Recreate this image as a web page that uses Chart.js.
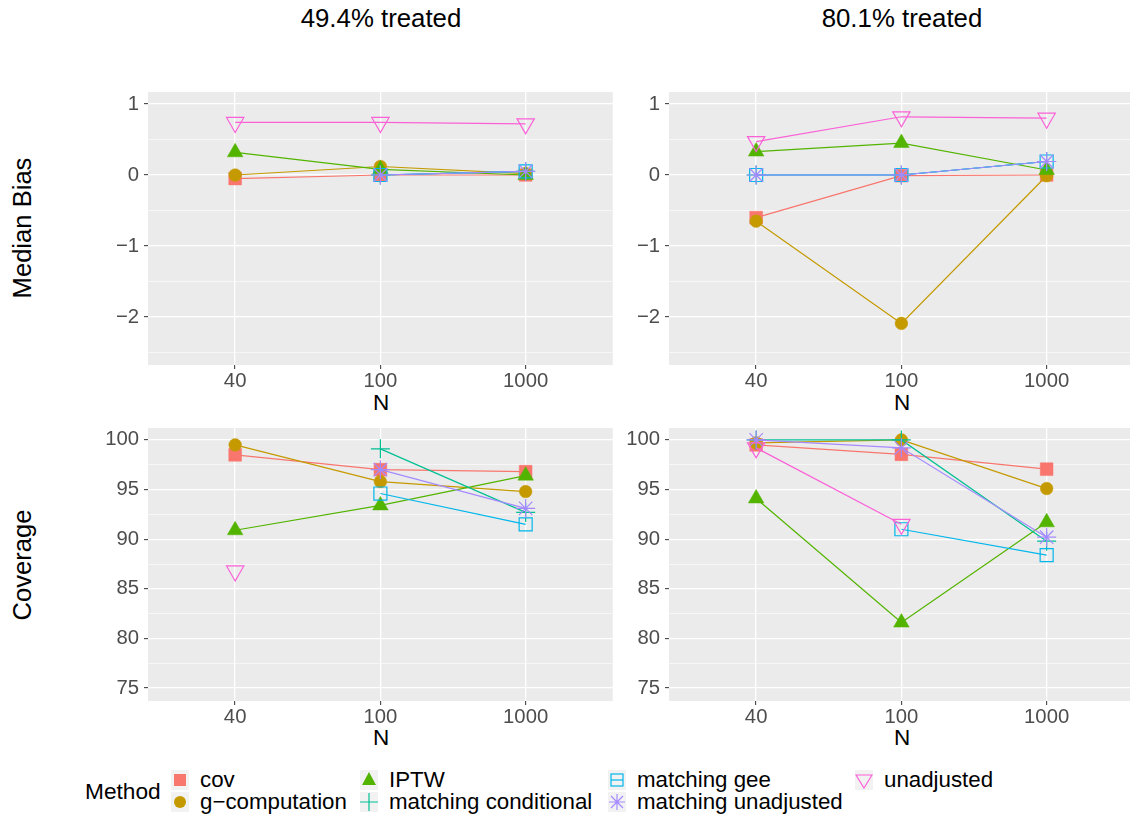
<!DOCTYPE html>
<html>
<head>
<meta charset="utf-8">
<script src="https://cdn.jsdelivr.net/npm/chart.js@4.4.0/dist/chart.umd.min.js"></script>
<style>
  body { margin:0; width:1130px; height:817px; overflow:hidden; position:relative; background:#fff;
         font-family:"Liberation Sans", Arial, sans-serif; }
  canvas.panel { position:absolute; }
  .lab { position:absolute; transform:translate(-50%,-50%); white-space:nowrap; color:#000; }
  .strip { font-size:25.8px; }
  .ytitle { font-size:25.6px; transform:translate(-50%,-50%) rotate(-90deg); }
  .xtitle { font-size:22.5px; }
  .legtext { position:absolute; font-size:22.3px; transform:translateY(-50%); white-space:nowrap; }
  .key { position:absolute; width:18px; height:20px; background:#F2F2F2; }
</style>
</head>
<body>
<div class="lab strip" style="left:381px;top:18px">49.4% treated</div>
<div class="lab strip" style="left:902px;top:18px">80.1% treated</div>
<div class="lab ytitle" style="left:22px;top:228px">Median Bias</div>
<div class="lab ytitle" style="left:22px;top:565px">Coverage</div>
<div class="lab xtitle" style="left:381px;top:403px">N</div>
<div class="lab xtitle" style="left:902px;top:403px">N</div>
<div class="lab xtitle" style="left:381px;top:738px">N</div>
<div class="lab xtitle" style="left:902px;top:738px">N</div>
<div class="legtext" style="left:85px;top:791px;font-size:22.7px">Method</div>

<canvas class="panel" id="biasLeft"></canvas>
<canvas class="panel" id="biasRight"></canvas>
<canvas class="panel" id="covLeft"></canvas>
<canvas class="panel" id="covRight"></canvas>

<script>
// data
var nLabels = ['40', '100', '1000'];
var methods = ['cov', 'g\u2212computation', 'IPTW', 'matching conditional', 'matching gee', 'matching unadjusted', 'unadjusted'];

// median bias, 49.4% treated (one array per method, N = 40, 100, 1000)
var bias49_cov      = [-0.05, 0, 0];
var bias49_gcomp    = [0, 0.12, 0.02];
var bias49_iptw     = [0.32, 0.08, 0];
var bias49_mcond    = [null, 0, 0.05];
var bias49_mgee     = [null, 0, 0.05];
var bias49_munadj   = [null, 0, 0.05];
var bias49_unadj    = [0.74, 0.74, 0.72];

// median bias, 80.1% treated
var bias80_cov      = [-0.60, -0.01, 0];
var bias80_gcomp    = [-0.65, -2.09, -0.01];
var bias80_iptw     = [0.33, 0.45, 0.07];
var bias80_mcond    = [0, 0, 0.19];
var bias80_mgee     = [0, 0, 0.19];
var bias80_munadj   = [0, 0, 0.19];
var bias80_unadj    = [0.47, 0.82, 0.80];

// coverage, 49.4% treated
var cov49_cov       = [98.5, 97.0, 96.8];
var cov49_gcomp     = [99.5, 95.8, 94.8];
var cov49_iptw      = [90.9, 93.4, 96.4];
var cov49_mcond     = [null, 99.1, 92.7];
var cov49_mgee      = [null, 94.6, 91.5];
var cov49_munadj    = [null, 97.0, 93.1];
var cov49_unadj     = [86.8, null, null];

// coverage, 80.1% treated
var cov80_cov       = [99.5, 98.55, 97.05];
var cov80_gcomp     = [99.7, 100, 95.1];
var cov80_iptw      = [94.1, 81.6, 91.7];
var cov80_mcond     = [100, 100, 89.8];
var cov80_mgee      = [null, 91.0, 88.4];
var cov80_munadj    = [100, 99.2, 90.2];
var cov80_unadj     = [99.2, 91.5, null];

var biasTicks = [-2.5, -2, -1.5, -1, -0.5, 0, 0.5, 1];
var covTicks = [75, 77.5, 80, 82.5, 85, 87.5, 90, 92.5, 95, 97.5, 100];

// styles
var colors = ['#F8766D', '#C49A00', '#53B400', '#00C094', '#00B6EB', '#A58AFF', '#FB61D7'];
var shapes = ['rect', 'circle', 'triangle', 'cross', 'rect', 'star', 'triangle'];
var radii = [9, 6.3, 9, 9.5, 9.2, 9.5, 10];
var rotations = [0, 0, 0, 0, 0, 0, 180];
var filled = [true, true, true, false, false, false, false];

var bgPlugin = {
  id: 'panelBg',
  beforeDraw: function(chart) {
    var a = chart.chartArea, ctx = chart.ctx;
    ctx.save();
    ctx.fillStyle = '#EBEBEB';
    ctx.fillRect(a.left, a.top, a.right - a.left, a.bottom - a.top);
    ctx.restore();
  }
};

function fmt(v) {
  return v < 0 ? '\u2212' + Math.abs(v) : String(v);
}

var tickFont = { family: '"Liberation Sans", Arial, sans-serif', size: 20.3 };

function makePanel(id, left, top, series, yMin, yMax, yTicks) {
  var w = 466, h = 273, yW = 60, xH = 45, padTop = 20, padRight = 10;
  var canvas = document.getElementById(id);
  canvas.width = w + yW + padRight;
  canvas.height = h + padTop + xH;
  canvas.style.left = (left - yW) + 'px';
  canvas.style.top = (top - padTop) + 'px';

  var datasets = methods.map(function(m, i) {
    return {
      label: m,
      data: series[i].map(function(v, j) { return { x: j + 1, y: v }; }),
      borderColor: colors[i],
      backgroundColor: colors[i],
      pointBackgroundColor: filled[i] ? colors[i] : 'rgba(0,0,0,0)',
      pointBorderColor: colors[i],
      pointStyle: shapes[i],
      pointRadius: radii[i],
      pointRotation: rotations[i],
      pointBorderWidth: filled[i] ? 0.5 : 1.2,
      borderWidth: 1.2,
      fill: false,
      spanGaps: false,
      tension: 0,
      order: methods.length - 1 - i
    };
  });

  new Chart(canvas, {
    type: 'line',
    data: { datasets: datasets },
    options: {
      responsive: false,
      animation: false,
      devicePixelRatio: 1,
      layout: { padding: { top: padTop, right: padRight, left: 0, bottom: 0 } },
      plugins: { legend: { display: false }, tooltip: { enabled: false } },
      scales: {
        x: {
          type: 'linear', min: 0.4, max: 3.6,
          afterBuildTicks: function(s) { s.ticks = nLabels.map(function(_, j) { return { value: j + 1 }; }); },
          afterFit: function(s) { s.height = xH; },
          ticks: {
            callback: function(v, i) { return nLabels[i]; },
            color: '#4D4D4D', font: tickFont, padding: 0, maxRotation: 0, autoSkip: false
          },
          grid: { color: '#FFFFFF', lineWidth: 1.3, tickColor: '#333333', tickLength: 4, tickWidth: 1 },
          border: { display: false }
        },
        y: {
          type: 'linear', min: yMin, max: yMax,
          afterBuildTicks: function(s) { s.ticks = yTicks.map(function(v) { return { value: v }; }); },
          afterFit: function(s) { s.width = yW; },
          ticks: {
            callback: function(v) { return Number.isInteger(v) ? fmt(v) : ''; },
            color: '#4D4D4D', font: tickFont, padding: 5, autoSkip: false
          },
          grid: {
            color: '#FFFFFF',
            lineWidth: function(c) { return Number.isInteger(c.tick.value) ? 1.3 : 0.6; },
            tickColor: function(c) { return Number.isInteger(c.tick.value) ? '#333333' : 'rgba(0,0,0,0)'; },
            tickLength: 4, tickWidth: 1
          },
          border: { display: false }
        }
      }
    },
    plugins: [bgPlugin]
  });
}

makePanel('biasLeft', 148, 92,
  [bias49_cov, bias49_gcomp, bias49_iptw, bias49_mcond, bias49_mgee, bias49_munadj, bias49_unadj],
  -2.676, 1.169, biasTicks);
makePanel('biasRight', 669, 92,
  [bias80_cov, bias80_gcomp, bias80_iptw, bias80_mcond, bias80_mgee, bias80_munadj, bias80_unadj],
  -2.676, 1.169, biasTicks);
makePanel('covLeft', 148, 428,
  [cov49_cov, cov49_gcomp, cov49_iptw, cov49_mcond, cov49_mgee, cov49_munadj, cov49_unadj],
  73.7, 101.2, covTicks);
makePanel('covRight', 669, 428,
  [cov80_cov, cov80_gcomp, cov80_iptw, cov80_mcond, cov80_mgee, cov80_munadj, cov80_unadj],
  73.7, 101.2, covTicks);

// legend (column-major, 2 rows)
var keyX = [180, 369, 617, 864];
var keyY = [780, 802];

function drawKey(ctx, i) {
  var x = 9, y = 10, c = colors[i];
  ctx.strokeStyle = c; ctx.fillStyle = c; ctx.lineWidth = 1.2;
  ctx.beginPath();
  if (i === 0) { ctx.fillRect(x - 6, y - 6, 12, 12); }
  else if (i === 1) { ctx.arc(x, y, 6, 0, Math.PI * 2); ctx.fill(); }
  else if (i === 2) { ctx.moveTo(x, y - 8); ctx.lineTo(x + 7, y + 5); ctx.lineTo(x - 7, y + 5); ctx.closePath(); ctx.fill(); }
  else if (i === 3) { ctx.moveTo(x - 9, y); ctx.lineTo(x + 9, y); ctx.moveTo(x, y - 9); ctx.lineTo(x, y + 9); ctx.stroke(); }
  else if (i === 4) { ctx.strokeRect(x - 6, y - 6, 12, 12); ctx.moveTo(x - 6, y); ctx.lineTo(x + 6, y); ctx.stroke(); }
  else if (i === 5) {
    ctx.moveTo(x - 8, y); ctx.lineTo(x + 8, y); ctx.moveTo(x, y - 8); ctx.lineTo(x, y + 8);
    ctx.moveTo(x - 6, y - 6); ctx.lineTo(x + 6, y + 6); ctx.moveTo(x + 6, y - 6); ctx.lineTo(x - 6, y + 6); ctx.stroke();
  }
  else { ctx.moveTo(x, y + 8); ctx.lineTo(x + 8, y - 5); ctx.lineTo(x - 8, y - 5); ctx.closePath(); ctx.stroke(); }
}

methods.forEach(function(m, i) {
  var col = Math.floor(i / 2), row = i % 2;
  var kx = keyX[col], ky = keyY[row];
  var box = document.createElement('div');
  box.className = 'key';
  box.style.left = (kx - 9) + 'px';
  box.style.top = (ky - 10) + 'px';
  var cv = document.createElement('canvas');
  cv.width = 18; cv.height = 20;
  box.appendChild(cv);
  document.body.appendChild(box);
  drawKey(cv.getContext('2d'), i);
  var t = document.createElement('div');
  t.className = 'legtext';
  t.style.left = (kx + 20) + 'px';
  t.style.top = ky + 'px';
  t.textContent = m;
  document.body.appendChild(t);
});
</script>
</body>
</html>
